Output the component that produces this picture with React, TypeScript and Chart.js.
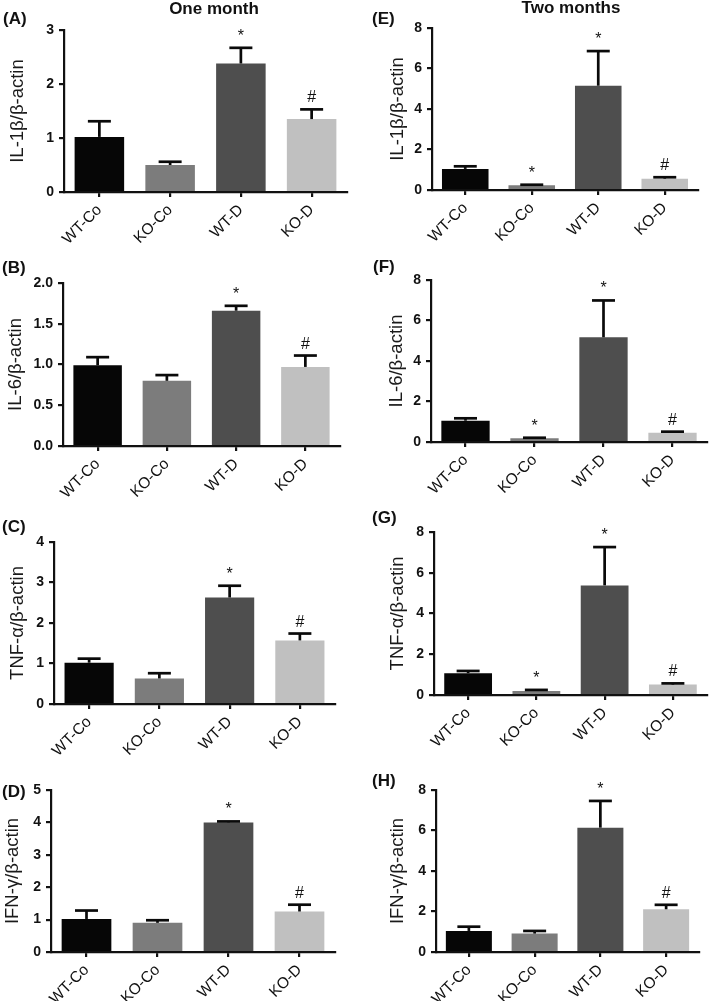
import { useEffect, useRef } from 'react';
import { Chart, registerables } from 'chart.js';

Chart.register(...registerables);

const FONT = '"Liberation Sans", Arial, Helvetica, sans-serif';

const groups = ['WT-Co', 'KO-Co', 'WT-D', 'KO-D'];
const barColors = ['#060606', '#7c7c7c', '#4e4e4e', '#c0c0c0'];

// One month
const il1bOneMean = [1.02, 0.5, 2.38, 1.35];
const il1bOneSem = [0.29, 0.06, 0.29, 0.18];
const il1bOneMarks = ['', '', '*', '#'];

const il6OneMean = [0.99, 0.8, 1.66, 0.97];
const il6OneSem = [0.1, 0.07, 0.06, 0.14];
const il6OneMarks = ['', '', '*', '#'];

const tnfOneMean = [1.02, 0.63, 2.63, 1.57];
const tnfOneSem = [0.1, 0.13, 0.29, 0.17];
const tnfOneMarks = ['', '', '*', '#'];

const ifnOneMean = [1.02, 0.9, 4.0, 1.25];
const ifnOneSem = [0.26, 0.08, 0.03, 0.21];
const ifnOneMarks = ['', '', '*', '#'];

// Two months
const il1bTwoMean = [1.04, 0.23, 5.15, 0.56];
const il1bTwoSem = [0.13, 0.03, 1.71, 0.07];
const il1bTwoMarks = ['', '*', '*', '#'];

const il6TwoMean = [1.05, 0.18, 5.17, 0.46];
const il6TwoSem = [0.12, 0.03, 1.82, 0.05];
const il6TwoMarks = ['', '*', '*', '#'];

const tnfTwoMean = [1.07, 0.2, 5.38, 0.51];
const tnfTwoSem = [0.11, 0.05, 1.88, 0.06];
const tnfTwoMarks = ['', '*', '*', '#'];

const ifnTwoMean = [1.04, 0.91, 6.14, 2.11];
const ifnTwoSem = [0.21, 0.13, 1.32, 0.22];
const ifnTwoMarks = ['', '', '*', '#'];

const columnTitles = ['One month', 'Two months'];

type Area = { left: number; right: number; top: number; bottom: number };
type Panel = {
  letter: string;
  label: string;
  mean: number[];
  sem: number[];
  marks: string[];
  yMax: number;
  yStep: number;
  decimals: number;
  area: Area;
  titleX: number;
  letterX: number;
  letterY: number;
};

const panels: Panel[] = [
  { letter: '(A)', label: 'IL-1β/β-actin', mean: il1bOneMean, sem: il1bOneSem, marks: il1bOneMarks, yMax: 3, yStep: 1, decimals: 0,
    area: { left: 64, right: 347, top: 30, bottom: 192 }, titleX: 17.5, letterX: 3, letterY: 19 },
  { letter: '(B)', label: 'IL-6/β-actin', mean: il6OneMean, sem: il6OneSem, marks: il6OneMarks, yMax: 2, yStep: 0.5, decimals: 1,
    area: { left: 63, right: 340, top: 283, bottom: 446 }, titleX: 16, letterX: 2, letterY: 268 },
  { letter: '(C)', label: 'TNF-α/β-actin', mean: tnfOneMean, sem: tnfOneSem, marks: tnfOneMarks, yMax: 4, yStep: 1, decimals: 0,
    area: { left: 54, right: 335, top: 542, bottom: 704 }, titleX: 18, letterX: 2, letterY: 527 },
  { letter: '(D)', label: 'IFN-γ/β-actin', mean: ifnOneMean, sem: ifnOneSem, marks: ifnOneMarks, yMax: 5, yStep: 1, decimals: 0,
    area: { left: 51, right: 335, top: 790, bottom: 952 }, titleX: 13, letterX: 2, letterY: 792 },
  { letter: '(E)', label: 'IL-1β/β-actin', mean: il1bTwoMean, sem: il1bTwoSem, marks: il1bTwoMarks, yMax: 8, yStep: 2, decimals: 0,
    area: { left: 432, right: 698, top: 28, bottom: 190 }, titleX: 398, letterX: 372, letterY: 19 },
  { letter: '(F)', label: 'IL-6/β-actin', mean: il6TwoMean, sem: il6TwoSem, marks: il6TwoMarks, yMax: 8, yStep: 2, decimals: 0,
    area: { left: 431, right: 707, top: 280, bottom: 442 }, titleX: 397, letterX: 373, letterY: 267 },
  { letter: '(G)', label: 'TNF-α/β-actin', mean: tnfTwoMean, sem: tnfTwoSem, marks: tnfTwoMarks, yMax: 8, yStep: 2, decimals: 0,
    area: { left: 434, right: 707, top: 532, bottom: 695 }, titleX: 398, letterX: 372, letterY: 518 },
  { letter: '(H)', label: 'IFN-γ/β-actin', mean: ifnTwoMean, sem: ifnTwoSem, marks: ifnTwoMarks, yMax: 8, yStep: 2, decimals: 0,
    area: { left: 436, right: 699, top: 790, bottom: 952 }, titleX: 398, letterX: 372, letterY: 781 },
];

const TOP_PAD = 24;
const BOTTOM_SPACE = 62;
const Y_TITLE_SIZE = 18.5;

function BarPanel({ p }: { p: Panel }) {
  const ref = useRef<HTMLCanvasElement>(null);
  const colLeft = p.area.left < 354 ? 0 : 355;
  const colRight = colLeft === 0 ? 354 : 709;
  const top = p.area.top - TOP_PAD;
  const bottom = p.area.bottom + BOTTOM_SPACE;
  const w = colRight - colLeft;
  const h = bottom - top;

  useEffect(() => {
    if (!ref.current) return;
    const errPlugin = {
      id: 'errorBars' + p.letter,
      afterDatasetsDraw(chart: any) {
        const ctx = chart.ctx;
        const meta = chart.getDatasetMeta(0);
        const ys = chart.scales.y;
        ctx.save();
        ctx.strokeStyle = '#0a0a0a';
        ctx.lineWidth = 2.7;
        ctx.lineCap = 'butt';
        meta.data.forEach((bar: any, i: number) => {
          const x = bar.x;
          const y0 = ys.getPixelForValue(p.mean[i]);
          const y1 = ys.getPixelForValue(p.mean[i] + p.sem[i]);
          ctx.beginPath();
          ctx.moveTo(x, y0);
          ctx.lineTo(x, y1);
          ctx.stroke();
          ctx.beginPath();
          ctx.moveTo(x - 11.5, y1);
          ctx.lineTo(x + 11.5, y1);
          ctx.stroke();
          if (p.marks[i]) {
            ctx.fillStyle = '#111';
            ctx.font = `16px ${FONT}`;
            ctx.textAlign = 'center';
            ctx.textBaseline = 'alphabetic';
            ctx.fillText(p.marks[i], x, y1 - 7);
          }
        });
        ctx.restore();
      },
    };

    const chart = new Chart(ref.current, {
      type: 'bar',
      data: {
        labels: groups,
        datasets: [
          {
            data: p.mean,
            backgroundColor: barColors,
            borderWidth: 0,
            barPercentage: 0.7,
            categoryPercentage: 1,
          },
        ],
      },
      options: {
        responsive: false,
        animation: false,
        events: [],
        layout: {
          padding: { top: TOP_PAD, right: colRight - p.area.right, left: 0, bottom: 0 },
        },
        plugins: {
          legend: { display: false },
          tooltip: { enabled: false },
          title: { display: false },
        },
        scales: {
          x: {
            type: 'category',
            grid: {
              display: true,
              drawOnChartArea: false,
              drawTicks: true,
              tickLength: 5,
              offset: false,
              color: '#111',
              lineWidth: 2.2,
            },
            border: { display: true, color: '#111', width: 2.2 },
            ticks: {
              font: { family: FONT, size: 15.5 },
              color: '#111',
              minRotation: 45,
              maxRotation: 45,
              autoSkip: false,
              padding: 4,
            },
            afterFit: (scale: any) => {
              scale.height = BOTTOM_SPACE;
            },
          },
          y: {
            min: 0,
            max: p.yMax,
            grid: {
              display: true,
              drawOnChartArea: false,
              drawTicks: true,
              tickLength: 5,
              color: '#111',
              lineWidth: 2.2,
            },
            border: { display: true, color: '#111', width: 2.2 },
            ticks: {
              stepSize: p.yStep,
              font: { family: FONT, size: 14, weight: 'bold' },
              color: '#111',
              padding: 5,
              callback: (v: any) => Number(v).toFixed(p.decimals),
            },
            title: {
              display: true,
              text: p.label,
              font: { family: FONT, size: Y_TITLE_SIZE },
              color: '#1a1a1a',
              padding: { top: p.titleX - colLeft - (Y_TITLE_SIZE * 1.2) / 2, bottom: 0 },
            },
            afterFit: (scale: any) => {
              scale.width = p.area.left - colLeft;
            },
          },
        },
      },
      plugins: [errPlugin],
    } as any);
    return () => chart.destroy();
  }, []);

  return (
    <canvas
      ref={ref}
      width={w}
      height={h}
      style={{ position: 'absolute', left: colLeft, top, width: w, height: h }}
    />
  );
}

export default function App() {
  return (
    <div
      style={{
        position: 'absolute',
        left: 0,
        top: 0,
        width: 709,
        height: 1001,
        background: '#fff',
        overflow: 'hidden',
        fontFamily: FONT,
      }}
    >
      {panels.map((p) => (
        <BarPanel key={p.letter} p={p} />
      ))}
      {panels.map((p) => (
        <div
          key={'l' + p.letter}
          style={{
            position: 'absolute',
            left: p.letterX,
            top: p.letterY - 10,
            height: 20,
            lineHeight: '20px',
            fontSize: 17,
            fontWeight: 'bold',
            color: '#111',
            whiteSpace: 'nowrap',
          }}
        >
          {p.letter}
        </div>
      ))}
      <div
        style={{
          position: 'absolute',
          left: 214 - 100,
          width: 200,
          top: 9 - 10,
          height: 20,
          lineHeight: '20px',
          textAlign: 'center',
          fontSize: 17,
          fontWeight: 'bold',
          color: '#111',
        }}
      >
        {columnTitles[0]}
      </div>
      <div
        style={{
          position: 'absolute',
          left: 571 - 100,
          width: 200,
          top: 8 - 10,
          height: 20,
          lineHeight: '20px',
          textAlign: 'center',
          fontSize: 17,
          fontWeight: 'bold',
          color: '#111',
        }}
      >
        {columnTitles[1]}
      </div>
    </div>
  );
}
